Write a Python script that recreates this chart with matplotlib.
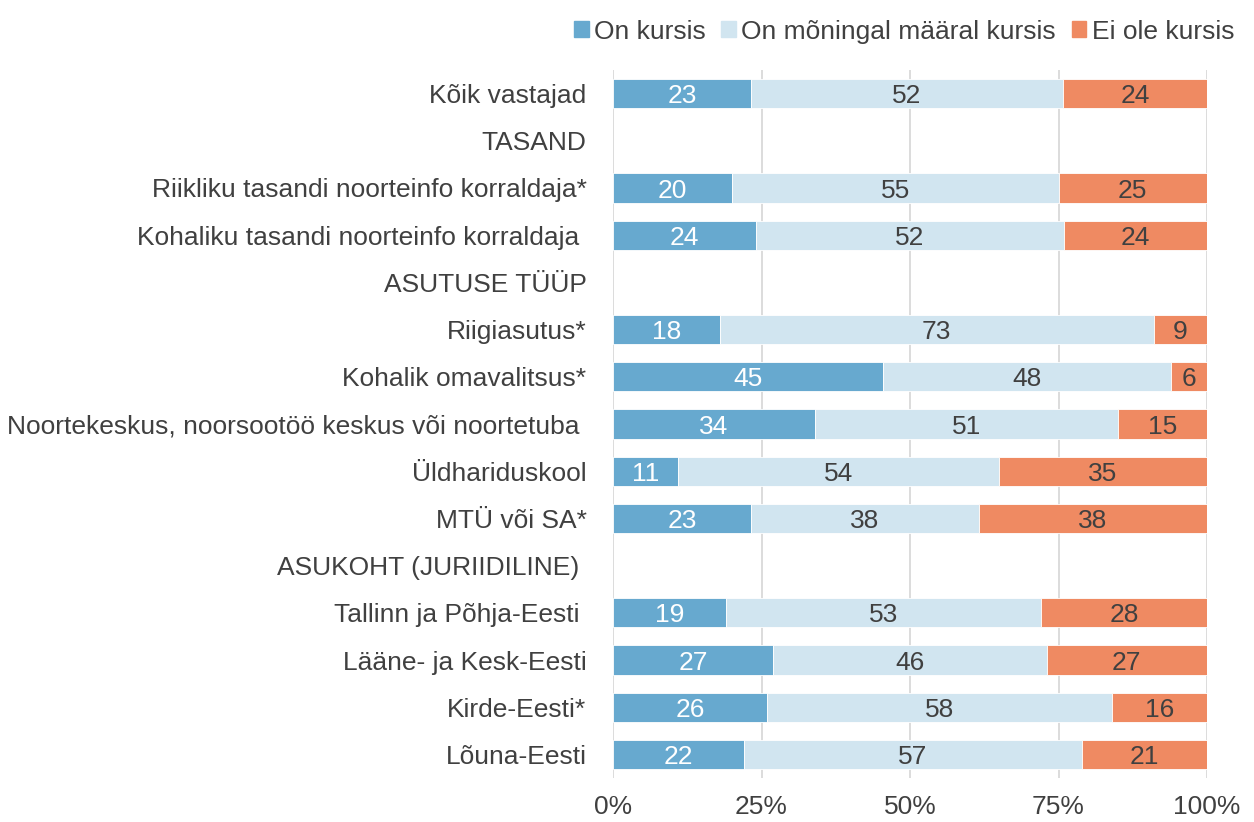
import numpy as np
import matplotlib.pyplot as plt

plt.rcParams['font.family'] = ['Liberation Sans', 'DejaVu Sans']

categories = [
    "Kõik vastajad",
    "TASAND",
    "Riikliku tasandi noorteinfo korraldaja*",
    "Kohaliku tasandi noorteinfo korraldaja ",
    "ASUTUSE TÜÜP",
    "Riigiasutus*",
    "Kohalik omavalitsus*",
    "Noortekeskus, noorsootöö keskus või noortetuba ",
    "Üldhariduskool",
    "MTÜ või SA*",
    "ASUKOHT (JURIIDILINE) ",
    "Tallinn ja Põhja-Eesti ",
    "Lääne- ja Kesk-Eesti",
    "Kirde-Eesti*",
    "Lõuna-Eesti",
]
# None = header row without a bar
on_kursis = [23, None, 20, 24, None, 18, 45, 34, 11, 23, None, 19, 27, 26, 22]
moningal = [52, None, 55, 52, None, 73, 48, 51, 54, 38, None, 53, 46, 58, 57]
ei_ole = [24, None, 25, 24, None, 9, 6, 15, 35, 38, None, 28, 27, 16, 21]

series_names = ["On kursis", "On mõningal määral kursis", "Ei ole kursis"]
colors = ["#67a9cf", "#d1e5f0", "#ef8a62"]
text_colors = ["white", "#404040", "#404040"]
grey = "#404040"
fs = 19

fig = plt.figure(figsize=(12.54, 8.22), dpi=100)
ax = fig.add_axes([613 / 1254, 1 - 778 / 822, 594 / 1254, (778 - 70) / 822])

y = np.arange(len(categories))
data = [on_kursis, moningal, ei_ole]
for i in range(len(categories)):
    if on_kursis[i] is None:
        continue
    vals = [s[i] for s in data]
    total = sum(vals)
    left = 0
    for k, v in enumerate(vals):
        w = v / total * 100
        ax.barh(y[i], w, left=left, height=0.62, color=colors[k],
                edgecolor="white", linewidth=0.6, zorder=3)
        ax.text(left + w / 2, y[i], str(v), ha="center", va="center_baseline",
                fontsize=fs, color=text_colors[k], zorder=4)
        left += w

ax.set_yticks(y)
ax.set_yticklabels(categories, fontsize=fs, color=grey)
ax.set_ylim(len(categories) - 0.5, -0.5)
ax.set_xlim(0, 100)
ax.set_xticks([0, 25, 50, 75, 100])
ax.set_xticklabels(["0%", "25%", "50%", "75%", "100%"], fontsize=fs, color=grey)
ax.tick_params(axis="y", length=0, pad=19)
ax.tick_params(axis="x", length=0, pad=12)
ax.grid(axis="x", color="#d9d9d9", linewidth=1.3, zorder=0)
for sp in ax.spines.values():
    sp.set_visible(False)

handles = [plt.Rectangle((0, 0), 1, 1, color=c) for c in colors]
fig.legend(handles, series_names, loc="upper right", bbox_to_anchor=(1.003, 1.005),
           ncol=3, frameon=False, fontsize=fs, handlelength=0.55, handleheight=0.55,
           handletextpad=0.2, columnspacing=0.6, labelcolor=grey)

fig.savefig("out.png", dpi=100)
